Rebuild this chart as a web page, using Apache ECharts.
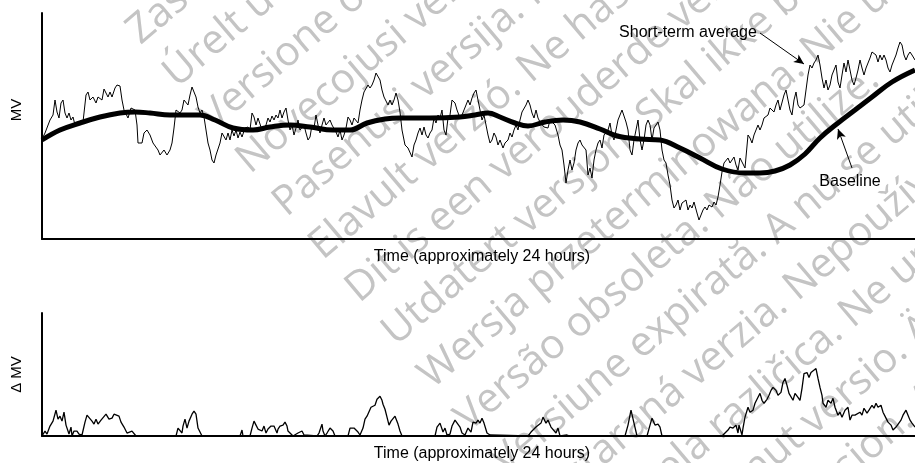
<!DOCTYPE html>
<html>
<head>
<meta charset="utf-8">
<script src="https://cdn.jsdelivr.net/npm/echarts@6/dist/echarts.min.js"></script>
<style>
html,body{margin:0;padding:0;background:#fff;}
#chart{width:915px;height:463px;}
</style>
</head>
<body>
<div id="chart"></div>
<script>
// ---- DATA (time in arbitrary units over ~24 h, MV in arbitrary units) ----
const xAxisTitle = 'Time (approximately 24 hours)';
const topAxisTitle = 'MV';
const bottomAxisTitle = '\u0394 MV';
const annotationLabels = ['Short-term average', 'Baseline'];

const stTime = [0,3,5,8,11,13,15,17,19,21,23,25,27,29,31,33,36,38,41,44,46,48,51,54,56,58,60,62,64,66,68,70,73,75,78,80,82,84,86,89,91,93,95,96,100,102,105,108,111,113,116,118,120,122,125,128,130,132,134,136,138,140,142,144,146,148,150,152,154,156,158,160,162,164,166,168,170,172,174,176,178,180,182,184,186,188,190,192,194,196,198,200,203,206,208,210,212,214,216,218,220,222,224,226,228,230,232,234,236,238,240,242,244,246,248,250,252,254,256,258,260,262,264,266,268,270,272,274,276,278,280,282,284,286,288,290,292,294,296,298,300,302,304,306,308,310,312,314,316,318,320,322,324,326,328,330,332,334,336,338,340,342,344,346,348,350,352,354,356,358,360,363,366,368,370,372,374,376,378,380,382,384,386,388,390,392,394,396,398,400,402,404,406,408,410,413,415,418,420,422,424,426,428,430,432,434,436,438,440,442,444,446,448,450,452,454,456,458,461,463,466,468,470,472,474,476,478,480,482,484,486,488,490,492,494,496,498,500,502,504,506,508,510,513,516,518,520,522,524,526,528,530,532,534,536,538,540,542,544,546,548,550,552,554,556,558,560,562,564,566,568,570,572,574,576,578,580,582,584,586,588,590,592,594,596,598,600,602,604,606,608,610,612,614,616,618,620,622,624,626,628,630,632,634,636,638,640,642,644,646,648,650,652,655,657,659,661,663,665,667,670,672,674,676,678,680,682,684,686,688,690,692,694,696,698,700,703,706,708,710,712,714,716,718,720,722,724,726,728,730,732,734,736,738,740,742,744,746,748,750,752,754,756,758,760,762,764,766,768,770,772,774,776,778,780,782,784,786,788,790,792,794,796,798,800,802,804,806,808,810,812,814,816,818,820,822,824,826,828,830,832,834,836,838,840,842,844,846,848,850,852,854,856,858,860,862,864,866,868,870,873];
const stValue = [100,106,104,119,124,139,127,121,136,139,126,121,126,119,122,114,116,115,117,144,147,139,142,136,142,142,139,150,152,142,147,142,151,154,153,139,129,129,121,131,133,129,114,96,96,106,109,104,96,94,89,84,82,89,84,89,96,111,129,131,126,129,139,139,134,144,152,151,142,132,126,129,122,109,96,89,79,76,84,86,96,106,107,99,106,99,109,103,109,101,107,102,111,112,109,126,122,114,121,115,109,111,114,121,117,123,119,124,121,129,121,127,131,119,109,114,104,111,119,109,107,114,106,99,102,114,111,124,114,106,114,121,114,112,119,114,116,107,102,109,99,104,111,122,119,114,121,122,116,129,139,147,149,154,151,154,159,166,167,159,149,142,144,134,139,134,139,146,139,127,109,94,91,89,82,94,99,106,111,104,112,104,101,106,109,121,116,124,121,129,109,104,121,124,139,136,129,121,124,129,134,139,134,141,146,149,139,129,119,124,114,104,96,99,106,102,94,99,91,96,99,106,102,109,114,109,119,127,129,134,139,134,126,121,129,121,117,119,112,114,111,119,121,114,104,94,89,74,56,69,79,69,76,89,96,99,94,96,89,64,71,61,79,89,96,99,91,104,102,109,116,104,99,109,119,124,129,127,117,109,89,84,99,109,119,99,89,99,114,119,114,99,111,114,117,109,89,79,76,64,54,39,31,34,39,29,36,34,39,29,34,31,37,26,19,24,29,32,29,34,32,37,34,42,54,67,76,74,81,76,79,82,74,69,81,77,71,104,101,96,104,109,114,109,114,121,119,124,131,129,127,134,139,129,131,144,149,139,129,124,139,147,134,131,131,134,149,164,174,171,176,179,184,174,161,151,159,149,154,164,169,174,157,151,164,176,167,179,169,159,154,161,169,179,171,164,171,176,181,187,189,184,177,184,179,184,179,171,167,174,179,184,191,197,194,184,179,184,187,184,179];

const baseTime = [0,18,38,58,78,93,108,128,158,173,191,211,228,248,268,291,308,325,343,358,388,418,433,446,458,473,486,503,521,538,558,575,598,618,638,658,680,703,718,733,748,763,778,796,813,830,850,873];
const baseValue = [99,109,116,122,126,127,126,124,124,119,111,109,112,114,112,109,109,116,120,121,121,122,124,126,122,116,113,117,119,117,110,103,100,99,91,81,70,66,66,68,74,85,101,116,129,142,157,169];

const dTime = [0,3,5,8,11,14,16,18,20,22,24,26,27,29,30,32,35,37,40,43,45,47,50,52,54,56,59,61,64,65,67,70,72,74,77,79,82,85,87,90,92,94,134,136,138,140,141,143,145,147,150,152,154,156,158,160,182,184,186,198,200,201,208,210,212,214,216,218,220,222,224,226,229,231,232,235,236,238,240,241,243,245,246,248,251,256,260,262,264,275,277,280,281,283,285,288,291,293,306,308,310,312,314,316,318,321,323,325,327,329,331,333,335,336,338,340,341,343,345,346,347,349,351,353,355,356,358,360,393,395,398,401,403,405,408,410,413,415,418,420,423,426,429,431,434,436,438,440,442,445,448,450,486,489,491,494,496,499,501,504,506,509,511,514,516,518,525,526,528,583,586,589,592,595,605,608,610,613,616,618,620,680,683,686,688,691,694,696,697,700,701,703,706,708,711,713,716,718,720,722,725,727,729,731,734,736,739,741,743,745,747,749,751,753,756,758,760,762,765,767,769,771,774,776,778,780,781,784,786,789,791,793,796,798,800,803,806,808,810,813,815,818,820,822,825,827,830,832,834,836,839,841,844,846,849,851,854,856,859,861,864,866,868,870,873];
const dValue = [0,5,2,10,15,26,17,20,15,24,11,12,2,9,0,5,5,2,1,14,21,22,15,12,17,12,16,17,22,24,17,18,22,22,20,14,9,3,3,5,3,0,0,8,8,3,10,17,8,15,22,25,22,8,6,0,0,2,0,0,6,0,0,8,15,11,7,8,5,10,3,7,10,12,10,3,7,10,8,11,14,10,5,3,0,3,5,1,0,0,3,12,5,0,3,8,5,0,0,8,10,8,9,4,1,8,17,20,22,29,30,31,37,39,40,36,32,27,19,18,11,15,17,20,20,12,5,0,0,9,13,4,8,1,2,10,16,15,9,3,1,8,4,14,13,16,13,18,13,3,1,0,0,4,3,9,8,13,19,13,16,9,11,3,8,0,1,3,0,0,11,26,13,0,0,11,18,11,12,9,0,0,3,6,9,8,11,3,11,1,8,19,29,24,26,33,39,43,36,33,37,41,46,49,46,41,44,54,58,51,43,44,36,43,39,36,48,63,64,59,64,66,68,58,49,41,33,29,36,33,38,29,21,24,19,26,29,16,21,21,19,24,21,28,23,26,31,28,33,29,31,24,18,14,11,6,9,11,16,21,26,21,16,13,9];

const watermarkLines = [
  'Zastaralá verze. Nepoužívat.',
  'Úrelt útgáfa. Notið ekki.',
  'Versione obsoleta. Non utilizzare.',
  'Novecojusi versija. Nelietot.',
  'Pasenusi versija. Nenaudokite.',
  'Elavult verzió. Ne használja!',
  'Dit is een verouderde versie. Niet gebruiken.',
  'Utdatert versjon. Skal ikke brukes.',
  'Wersja przeterminowana. Nie używać.',
  'Versão obsoleta. Não utilize.',
  'Versiune expirată. A nu se utiliza.',
  'Zastaraná verzia. Nepoužívať.',
  'Zastarela različica. Ne uporabite.',
  'Vanhentunut versio. Älä käytä.',
  'Föråldrad version. Använd ej.',
  'Güncel olmayan sürüm. Kullanmayın.'
];

// ---- BUILD ----
const zip = (a, b) => a.map((t, i) => [t, b[i]]);
const FONT = 'Liberation Sans, Arial, sans-serif';
const chart = echarts.init(document.getElementById('chart'), null, {renderer: 'canvas'});

const axisLine = {show: true, onZero: false, lineStyle: {color: '#000', width: 2}};
const xAxisCommon = {
  type: 'value', min: 0, max: 873,
  axisLine: axisLine, axisTick: {show: false}, axisLabel: {show: false}, splitLine: {show: false},
  name: xAxisTitle, nameLocation: 'middle', nameGap: 10,
  nameTextStyle: {fontFamily: FONT, fontSize: 16, color: '#000', padding: [0, 0, 0, 7]}
};
const yAxisCommon = {
  type: 'value', min: 0,
  axisLine: axisLine, axisTick: {show: false}, axisLabel: {show: false}, splitLine: {show: false},
  nameLocation: 'middle', nameGap: 18
};

const option = {
  animation: false,
  backgroundColor: '#fff',
  grid: [
    {left: 42, right: 0, top: 13, height: 226},
    {left: 42, right: 0, top: 313, height: 124}
  ],
  xAxis: [
    Object.assign({gridIndex: 0}, xAxisCommon),
    Object.assign({gridIndex: 1}, xAxisCommon)
  ],
  yAxis: [
    Object.assign({gridIndex: 0, max: 226, name: topAxisTitle,
      nameTextStyle: {fontFamily: FONT, fontSize: 15, color: '#000', padding: [0, 0, 0, 32]}}, yAxisCommon),
    Object.assign({gridIndex: 1, max: 124, name: bottomAxisTitle,
      nameTextStyle: {fontFamily: FONT, fontSize: 15, color: '#000'}}, yAxisCommon)
  ],
  graphic: [{
    type: 'group', x: 141, y: 46, rotation: 40.3 * Math.PI / 180, z: -10, silent: true,
    children: watermarkLines.map((t, k) => ({
      type: 'text', x: 0, y: k * 56.4 + 8, z: -10,
      style: {text: t, font: '41px "Open Sans", sans-serif', fill: '#c4c4c4', align: 'left', verticalAlign: 'bottom'}
    }))
  }],
  series: [
    {
      name: 'Short-term average', type: 'line', xAxisIndex: 0, yAxisIndex: 0,
      data: zip(stTime, stValue), showSymbol: false, symbol: 'none',
      lineStyle: {color: '#000', width: 1}, z: 3,
      markLine: {
        silent: true, symbol: ['none', 'arrow'], symbolSize: [7, 10],
        lineStyle: {color: '#000', width: 1, type: 'solid'}, label: {show: false},
        data: [
          [{coord: [718, 206]}, {coord: [762, 175]}],
          [{coord: [810, 71]}, {coord: [796, 110]}]
        ]
      },
      markPoint: {
        silent: true, symbol: 'circle', symbolSize: 0, itemStyle: {color: 'transparent'},
        label: {show: true, position: 'inside', formatter: '{b}', fontFamily: FONT, fontSize: 16, color: '#000'},
        data: [
          {name: annotationLabels[0], coord: [646, 206]},
          {name: annotationLabels[1], coord: [808, 57]}
        ]
      }
    },
    {
      name: 'Baseline', type: 'line', xAxisIndex: 0, yAxisIndex: 0,
      data: zip(baseTime, baseValue), showSymbol: false, symbol: 'none', smooth: 0.4,
      lineStyle: {color: '#000', width: 5}, z: 4
    },
    {
      name: 'Delta MV', type: 'line', xAxisIndex: 1, yAxisIndex: 1,
      data: zip(dTime, dValue), showSymbol: false, symbol: 'none',
      lineStyle: {color: '#000', width: 1.3}, z: 3
    }
  ]
};
chart.setOption(option);
</script>
</body>
</html>
